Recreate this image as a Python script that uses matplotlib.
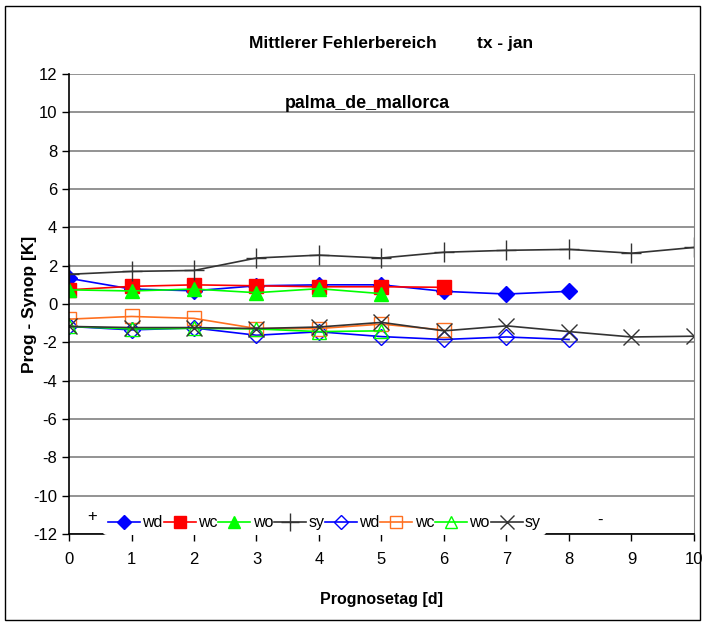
import numpy as np
import matplotlib
matplotlib.use("Agg")
import matplotlib.pyplot as plt
from matplotlib.patches import Rectangle

plt.rcParams['font.family'] = ['Liberation Sans', 'DejaVu Sans']
plt.rcParams['axes.unicode_minus'] = False

days = list(range(11))

# upper group (filled markers / plus)
wd_hi = [1.34, 0.78, 0.69, 0.95, 1.0, 1.0, 0.66, 0.52, 0.66]
wc_hi = [0.74, 0.92, 1.0, 0.95, 0.9, 0.9, 0.87]
wo_hi = [0.74, 0.68, 0.78, 0.59, 0.8, 0.54]
sy_hi = [1.55, 1.7, 1.75, 2.4, 2.55, 2.4, 2.7, 2.8, 2.85, 2.65, 2.95]

# lower group (open markers / x)
wd_lo = [-1.17, -1.35, -1.25, -1.63, -1.45, -1.7, -1.85, -1.72, -1.85]
wc_lo = [-0.79, -0.65, -0.75, -1.28, -1.28, -1.05, -1.36]
wo_lo = [-1.17, -1.3, -1.27, -1.3, -1.44, -1.4]
sy_lo = [-1.17, -1.23, -1.23, -1.28, -1.2, -0.96, -1.4, -1.14, -1.44, -1.72, -1.68]

yticks = list(range(-12, 13, 2))

blue = '#0000ff'
red = '#ff0000'
green = '#00ff00'
grey = '#333333'
orange = '#ff7020'

fig = plt.figure(figsize=(7.07, 6.27), dpi=100)
ax = fig.add_axes([0.0976, 0.1483, 0.8840, 0.7337])

fig.patches.append(Rectangle((0.007, 0.011), 0.983, 0.979, transform=fig.transFigure,
                             fill=False, edgecolor='black', linewidth=1.0))

lw = 1.2
ax.plot(days[:len(wd_hi)], wd_hi, color=blue, marker='D', ms=8, lw=lw, label='wd')
ax.plot(days[:len(wc_hi)], wc_hi, color=red, marker='s', ms=10, lw=lw, label='wc')
ax.plot(days[:len(wo_hi)], wo_hi, color=green, marker='^', ms=10, lw=lw, label='wo')
ax.plot(days[:len(sy_hi)], sy_hi, color=grey, marker='+', ms=14, mew=1.0, lw=lw, label='sy')
ax.plot(days[:len(wd_lo)], wd_lo, color=blue, marker='D', ms=8, mfc='none', lw=lw, label='wd')
ax.plot(days[:len(wc_lo)], wc_lo, color=orange, marker='s', ms=10, mfc='none', lw=lw, label='wc')
ax.plot(days[:len(wo_lo)], wo_lo, color=green, marker='^', ms=10, mfc='none', lw=lw, label='wo')
ax.plot(days[:len(sy_lo)], sy_lo, color=grey, marker='x', ms=11, mew=1.0, lw=lw, label='sy')

ax.set_xlim(0, 10)
ax.set_ylim(-12, 12)
ax.set_xticks(days)
ax.set_yticks(yticks)
ax.yaxis.grid(True, color='#808080', lw=1.2)
ax.set_axisbelow(True)
ax.tick_params(axis='both', direction='out', length=5, labelsize=12, width=1)
ax.tick_params(axis='x', pad=8)
ax.spines['top'].set_visible(False)
ax.spines['right'].set_color('#808080')
ax.spines['left'].set_linewidth(1.2)
ax.spines['bottom'].set_linewidth(1.2)

ax.set_ylabel('Prog - Synop [K]', fontsize=12.5, fontweight='bold', labelpad=-3)
ax.set_xlabel('Prognosetag [d]', fontsize=11.5, fontweight='bold', labelpad=18)

fig.text(0.485, 0.93, 'Mittlerer Fehlerbereich', ha='center', va='center',
         fontsize=12.5, fontweight='bold')
fig.text(0.715, 0.93, 'tx - jan', ha='center', va='center',
         fontsize=12.5, fontweight='bold')
ax.text(0.478, 0.936, 'palma_de_mallorca', transform=ax.transAxes, ha='center', va='center',
        fontsize=12.8, fontweight='bold')

leg = ax.legend(ncol=8, loc='lower left', bbox_to_anchor=(0.055, -0.002), frameon=True,
                fontsize=11.5, handlelength=2.0, handletextpad=0.15, columnspacing=0.05,
                borderpad=0.3, borderaxespad=0.0, markerscale=0.9)
leg.get_frame().set_edgecolor('none')
leg.get_frame().set_facecolor('white')
leg.get_frame().set_alpha(1.0)

ax.text(0.037, 0.038, '+', transform=ax.transAxes, ha='center', va='center', fontsize=12)
ax.text(0.85, 0.03, '-', transform=ax.transAxes, ha='center', va='center', fontsize=12)

fig.savefig('out.png', dpi=100)
